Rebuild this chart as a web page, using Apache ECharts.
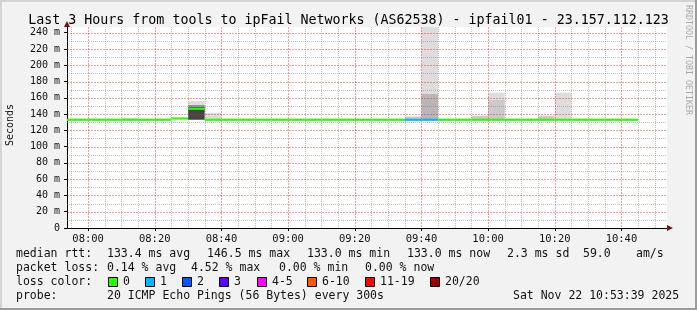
<!DOCTYPE html>
<html>
<head>
<meta charset="utf-8">
<script src="https://cdn.jsdelivr.net/npm/echarts@6/dist/echarts.min.js"></script>
<style>
html,body{margin:0;padding:0;background:#f2f2f2;}
#c{width:697px;height:310px;}
</style>
</head>
<body>
<div id="c"></div>
<script>
// ---- data ----
const titleText = 'Last 3 Hours from tools to ipFail Networks (AS62538) - ipfail01 - 23.157.112.123';
// 5-minute intervals (start time)
const intervals = ['07:50','07:55','08:00','08:05','08:10','08:15','08:20','08:25','08:30','08:35',
                   '08:40','08:45','08:50','08:55','09:00','09:05','09:10','09:15','09:20','09:25',
                   '09:30','09:35','09:40','09:45','09:50','09:55','10:00','10:05','10:10','10:15',
                   '10:20','10:25','10:30','10:35','10:40'];
// median rtt per interval (ms)
const medianRtt = [133.0,133.0,133.0,133.0,133.0,133.0,133.0,134.6,146.5,133.0,
                   133.0,133.0,133.0,133.0,133.0,133.0,133.0,133.0,133.0,133.0,
                   133.0,133.0,133.0,133.0,133.0,133.0,133.0,133.0,133.0,133.0,
                   133.0,133.0,133.0,133.0,133.0];
// lost pings per interval (of 20)
const lossCount = [0,0,0,0,0,0,0,0,0,0, 0,0,0,0,0,0,0,0,0,0, 0,1,1,0,0,0,0,0,0,0, 0,0,0,0,0];
// smoke bands: [interval, low ms, high ms, ping rank (1 = outermost, 10 = central)]
const smokeBands = [
  ['08:10',133.0,135.5,1],
  ['08:30',133.0,149.2,9],['08:30',149.2,151.3,5],['08:30',151.3,156.0,1],
  ['08:35',133.0,141.5,1],
  ['09:35',133.0,137.0,2],
  ['09:40',133.0,164.8,3],['09:40',164.8,250.0,1],
  ['09:55',133.0,138.0,2],
  ['10:00',133.0,157.4,2],['10:00',157.4,166.4,1],
  ['10:15',133.0,138.0,2],
  ['10:20',133.0,166.4,1]
];
const xTickLabels = ['08:00','08:20','08:40','09:00','09:20','09:40','10:00','10:20','10:40'];
const yTickValues = [0,20,40,60,80,100,120,140,160,180,200,220,240];
const lossLegend = [['0','#26ff00'],['1','#00b8ff'],['2','#0059ff'],['3','#5e00ff'],
                    ['4-5','#ff00ff'],['6-10','#ff5500'],['11-19','#ff0000'],['20/20','#a00000']];
const lossLegendX = [108,145,182,219,257,307,365,430];
const statsRtt = [['median rtt:',16],['133.4 ms avg',107],['146.5 ms max',207],['133.0 ms min',307],
                  ['133.0 ms now',407],['2.3 ms sd',507],['59.0',583],['am/s',636]];
const statsLoss = [['packet loss:',16],['0.14 % avg',107],['4.52 % max',191],['0.00 % min',279],['0.00 % now',365]];
const probeLine = [['probe:',16],['20 ICMP Echo Pings (56 Bytes) every 300s',107],['Sat Nov 22 10:53:39 2025',513]];

// ---- helpers ----
function toMin(s){const p=s.split(':').map(Number);return (p[0]-8)*60+p[1];}
function lossColor(n){
  if(n<=0) return lossLegend[0][1];
  if(n===1) return lossLegend[1][1];
  if(n===2) return lossLegend[2][1];
  if(n===3) return lossLegend[3][1];
  if(n<=5) return lossLegend[4][1];
  if(n<=10) return lossLegend[5][1];
  if(n<=19) return lossLegend[6][1];
  return lossLegend[7][1];
}
function shade(rank){const g=Math.round(50+19*(10-rank));return 'rgb('+g+','+g+','+g+')';}
const X_MIN = -6 - 20/60, X_MAX = 173 + 40/60;
const Y_MAX = 247;
const mono = 'DejaVu Sans Mono';

const smokeData = smokeBands.map(b=>[toMin(b[0]),toMin(b[0])+5,b[1],b[2],b[3]]);
const medianData = intervals.map((t,i)=>[toMin(t),toMin(t)+5,medianRtt[i],lossCount[i]]);

// grid lines (axis decoration)
const majorX = [], minorX = [], majorY = [], minorY = [];
for(let m=-5;m<=170;m+=5){ (m%20===0?majorX:minorX).push(m); }
for(let v=10;v<=240;v+=10){ (v%20===0?majorY:minorY).push(v); }
const MAJOR_COLOR = 'rgba(255,30,30,0.45)', MINOR_COLOR = 'rgba(120,120,120,0.45)';

function clipRect(r,params){
  return echarts.graphic.clipRectByRect(r,{x:params.coordSys.x,y:params.coordSys.y,width:params.coordSys.width,height:params.coordSys.height});
}

const graphics = [];
// borders
graphics.push({type:'rect',shape:{x:0,y:0,width:697,height:2},style:{fill:'#d4d4d4'},silent:true});
graphics.push({type:'rect',shape:{x:0,y:0,width:2,height:310},style:{fill:'#d4d4d4'},silent:true});
graphics.push({type:'rect',shape:{x:0,y:308,width:697,height:2},style:{fill:'#9c9c9c'},silent:true});
graphics.push({type:'rect',shape:{x:695,y:0,width:2,height:310},style:{fill:'#9c9c9c'},silent:true});
// axis arrows
graphics.push({type:'polygon',shape:{points:[[64,27],[70,27],[67,21]]},style:{fill:'#7a1010'},silent:true,z:50});
graphics.push({type:'polygon',shape:{points:[[667,225],[667,231],[673,228]]},style:{fill:'#7a1010'},silent:true,z:50});
// y axis name
graphics.push({type:'text',x:10,y:125,rotation:Math.PI/2,style:{text:'Seconds',font:'10px '+mono,fill:'#111',align:'center',verticalAlign:'middle'},silent:true});
// watermark
graphics.push({type:'text',x:688,y:60,rotation:-Math.PI/2,style:{text:'RRDTOOL / TOBI OETIKER',font:'8.3px '+mono,fill:'#aaaaaa',align:'center',verticalAlign:'middle'},silent:true});
// legend lines
function addLine(items,y){
  items.forEach(it=>graphics.push({type:'text',x:it[1],y:y,style:{text:it[0],font:'11.5px '+mono,fill:'#111',verticalAlign:'middle'},silent:true}));
}
addLine(statsRtt,254);
addLine(statsLoss,268);
addLine([['loss color:',16]],282);
lossLegend.forEach((l,i)=>{
  const x=lossLegendX[i];
  graphics.push({type:'rect',shape:{x:x+0.5,y:277.5,width:9,height:9},style:{fill:l[1],stroke:'#000',lineWidth:1},silent:true});
  graphics.push({type:'text',x:x+15,y:282,style:{text:l[0],font:'11.5px '+mono,fill:'#111',verticalAlign:'middle'},silent:true});
});
addLine(probeLine,296);

function gridSeries(name, values, vertical, color, dash){
  return {type:'custom',name:name,z:3,data:values.map(v=>[v]),silent:true,
    renderItem:(params,api)=>{
      const cs=params.coordSys;
      const v=api.value(0);
      let shape;
      if(vertical){ const x=Math.round(api.coord([v,0])[0])+0.5; shape={x1:x,y1:cs.y,x2:x,y2:cs.y+cs.height}; }
      else { const y=Math.round(api.coord([X_MIN,v])[1])+0.5; shape={x1:cs.x,y1:y,x2:cs.x+cs.width,y2:y}; }
      return {type:'line',shape:shape,style:{stroke:color,fill:null,lineWidth:1,lineDash:dash}};
    }};
}

const chart = echarts.init(document.getElementById('c'),null,{renderer:'canvas'});
chart.setOption({
  animation:false,
  backgroundColor:'#f2f2f2',
  title:{text:titleText,left:'center',top:9,textStyle:{fontFamily:mono,fontSize:13.3,fontWeight:'normal',color:'#000'}},
  grid:{left:67,right:30,top:27,bottom:82,show:true,backgroundColor:'#ffffff',borderWidth:0},
  xAxis:{type:'value',min:X_MIN,max:X_MAX,
    axisLine:{show:true,onZero:false,lineStyle:{color:'#000',width:1}},
    axisTick:{show:true,length:3,customValues:xTickLabels.map(toMin),lineStyle:{color:'#000'}},
    axisLabel:{customValues:xTickLabels.map(toMin),margin:6,fontFamily:mono,fontSize:10.5,color:'#111',
      formatter:v=>{const t=Math.round(v)+480;const h=Math.floor(t/60),m=t%60;return (h<10?'0':'')+h+':'+(m<10?'0':'')+m;}},
    splitLine:{show:false}},
  yAxis:{type:'value',min:0,max:Y_MAX,
    axisLine:{show:true,onZero:false,lineStyle:{color:'#000',width:1}},
    axisTick:{show:true,length:3,customValues:yTickValues,lineStyle:{color:'#000'}},
    axisLabel:{customValues:yTickValues,margin:7,fontFamily:mono,fontSize:10,color:'#111',
      formatter:v=>v===0?'0':v+' m'},
    splitLine:{show:false}},
  graphic:graphics,
  series:[
    {type:'custom',name:'smoke',z:1,data:smokeData,encode:{x:[0,1],y:[2,3]},silent:true,
     renderItem:(params,api)=>{
       const p1=api.coord([api.value(0),api.value(3)]);
       const p2=api.coord([api.value(1),api.value(2)]);
       const r=clipRect({x:p1[0],y:p1[1],width:p2[0]-p1[0],height:p2[1]-p1[1]},params);
       if(!r) return null;
       return {type:'rect',shape:r,style:{fill:shade(api.value(4))}};
     }},
    gridSeries('minorX',minorX,true,MINOR_COLOR,[1,1]),
    gridSeries('minorY',minorY,false,MINOR_COLOR,[1,1]),
    gridSeries('majorX',majorX,true,MAJOR_COLOR,[2,1]),
    gridSeries('majorY',majorY,false,MAJOR_COLOR,[2,1]),
    {type:'custom',name:'median',z:6,data:medianData,encode:{x:[0,1],y:2},silent:true,
     renderItem:(params,api)=>{
       const p1=api.coord([api.value(0),api.value(2)]);
       const p2=api.coord([api.value(1),api.value(2)]);
       const r=clipRect({x:p1[0],y:p1[1]-1.1,width:p2[0]-p1[0],height:2.2},params);
       if(!r) return null;
       return {type:'rect',shape:r,style:{fill:lossColor(api.value(3))}};
     }}
  ]
});
</script>
</body>
</html>
